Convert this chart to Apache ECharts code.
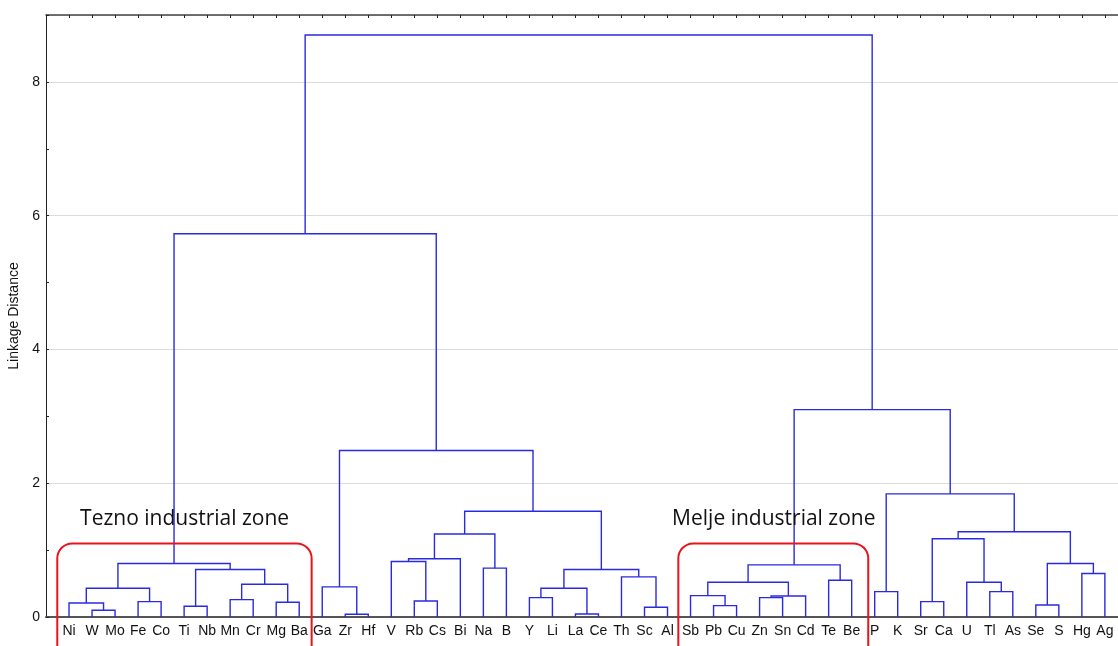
<!DOCTYPE html>
<html>
<head>
<meta charset="utf-8">
<script src="https://cdn.jsdelivr.net/npm/echarts@6/dist/echarts.min.js"></script>
<style>
html,body{margin:0;padding:0;background:#fff;}
#chart{width:1118px;height:646px;}
</style>
</head>
<body>
<div id="chart"></div>
<script>
// leaf order along the bottom axis
var elements = ['Ni','W','Mo','Fe','Co','Ti','Nb','Mn','Cr','Mg','Ba',
  'Ga','Zr','Hf','V','Rb','Cs','Bi','Na','B','Y','Li','La','Ce','Th','Sc','Al',
  'Sb','Pb','Cu','Zn','Sn','Cd','Te','Be','P','K','Sr','Ca','U','Tl','As','Se','S','Hg','Ag'];

// merges in order: [left, right, linkage distance]; 'cN' = cluster made by merge N
var merges = [
  ['W','Mo',0.10], ['Ni','c0',0.21], ['Fe','Co',0.23], ['c1','c2',0.43],
  ['Ti','Nb',0.16], ['Mn','Cr',0.26], ['Mg','Ba',0.22], ['c5','c6',0.49],
  ['c4','c7',0.71], ['c3','c8',0.80],
  ['Zr','Hf',0.04], ['Ga','c10',0.45],
  ['Rb','Cs',0.24], ['V','c12',0.83], ['c13','Bi',0.87], ['Na','B',0.73], ['c14','c15',1.24],
  ['Y','Li',0.29], ['La','Ce',0.045], ['c17','c18',0.43], ['Sc','Al',0.145], ['Th','c20',0.60],
  ['c19','c21',0.71], ['c16','c22',1.58], ['c11','c23',2.49], ['c9','c24',5.73],
  ['Pb','Cu',0.17], ['Sb','c26',0.32], ['Zn','Sn',0.29], ['c28','Cd',0.315],
  ['c27','c29',0.52], ['Te','Be',0.55], ['c30','c31',0.78],
  ['P','K',0.38], ['Sr','Ca',0.23], ['Tl','As',0.38], ['U','c35',0.52], ['c34','c36',1.17],
  ['Se','S',0.18], ['Hg','Ag',0.65], ['c38','c39',0.80], ['c37','c40',1.275],
  ['c33','c41',1.84], ['c32','c42',3.10], ['c25','c43',8.70]
];

var yMax = 9;
var xMax = 46.57;

// position of every node: leaves at 1..n, clusters above the middle of their children
var pos = {};
elements.forEach(function (e, i) { pos[e] = [i + 1, 0]; });
var links = [];
merges.forEach(function (m, i) {
  var a = pos[m[0]], b = pos[m[1]], h = m[2];
  links.push({ coords: [[a[0], a[1]], [a[0], h], [b[0], h], [b[0], b[1]]] });
  pos['c' + i] = [(a[0] + b[0]) / 2, h];
});

var chart = echarts.init(document.getElementById('chart'));
var font = 'Liberation Sans';

chart.setOption({
  animation: false,
  grid: { left: 46, right: 0, top: 15, bottom: 29, containLabel: false, outerBoundsMode: 'none' },
  xAxis: [{
    type: 'value', min: 0, max: xMax, interval: 1, position: 'bottom',
    axisLine: { show: true, lineStyle: { color: '#555', width: 2 } },
    axisTick: { show: false },
    splitLine: { show: false },
    axisLabel: {
      margin: 7, color: '#111', fontFamily: font, fontSize: 14,
      formatter: function (v) { return Number.isInteger(v) && v >= 1 && v <= elements.length ? elements[v - 1] : ''; }
    }
  }, {
    type: 'value', min: 0, max: xMax, interval: 1, position: 'top',
    axisLine: { show: true, onZero: false, lineStyle: { color: '#444', width: 1.5 } },
    axisTick: { show: true, inside: true, length: 3, lineStyle: { color: '#222' } },
    axisLabel: { show: false },
    splitLine: { show: false }
  }],
  yAxis: {
    type: 'value', min: 0, max: yMax, interval: 2,
    name: 'Linkage Distance', nameLocation: 'middle', nameGap: 23,
    nameTextStyle: { fontFamily: font, fontSize: 14, color: '#111' },
    axisLine: { show: true, lineStyle: { color: '#222', width: 1 } },
    axisTick: { show: true, inside: true, length: 3, lineStyle: { color: '#222' } },
    minorTick: { show: true, splitNumber: 2, length: 3, lineStyle: { color: '#222' } },
    axisLabel: {
      margin: 6, color: '#111', fontFamily: font, fontSize: 14, showMaxLabel: false,
      formatter: function (v) { return v % 2 === 0 ? String(v) : ''; }
    },
    splitLine: { show: true, lineStyle: { color: '#dcdcdc', width: 1 } }
  },
  series: [{
    type: 'lines',
    coordinateSystem: 'cartesian2d',
    xAxisIndex: 0,
    polyline: true,
    silent: true,
    lineStyle: { color: '#2a2ae0', width: 1.4, opacity: 1 },
    data: links
  }]
});

// annotation boxes and labels, placed in data coordinates
var zones = [
  { name: 'Tezno industrial zone', x0: 0.49, x1: 11.54, textX: 1.48 },
  { name: 'Melje industrial zone', x0: 27.47, x1: 35.72, textX: 27.2 }
];
var boxTop = 1.10, textY = 1.465;
var graphics = [];
zones.forEach(function (z) {
  var p0 = chart.convertToPixel({ gridIndex: 0 }, [z.x0, boxTop]);
  var p1 = chart.convertToPixel({ gridIndex: 0 }, [z.x1, boxTop]);
  var t = chart.convertToPixel({ gridIndex: 0 }, [z.textX, textY]);
  graphics.push({
    type: 'rect', silent: true, z: 100,
    shape: { x: p0[0], y: p0[1], width: p1[0] - p0[0], height: 140, r: 15 },
    style: { fill: 'none', stroke: '#e8141c', lineWidth: 2 }
  });
  graphics.push({
    type: 'text', silent: true, z: 100, x: t[0], y: t[1],
    style: { text: z.name, fill: '#111', font: '21px "Open Sans"', verticalAlign: 'middle' }
  });
});
chart.setOption({ graphic: graphics });
</script>
</body>
</html>
